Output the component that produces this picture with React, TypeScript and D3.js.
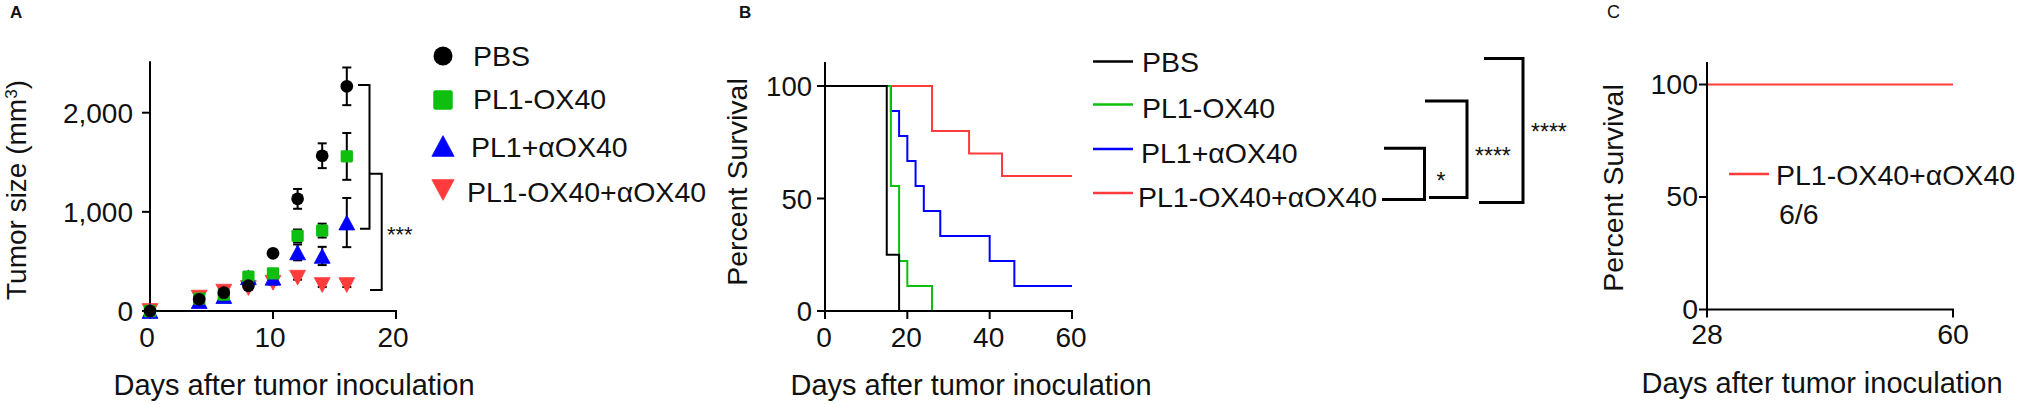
import React from 'react';
import * as d3 from 'd3';

const FONT = '"Liberation Sans", Arial, Helvetica, sans-serif';

// ---------- Panel A: tumor growth ----------
const daysA = [0, 4, 6, 8, 10, 12, 14, 16];
const groupNames = ['PBS', 'PL1-OX40', 'PL1+αOX40', 'PL1-OX40+αOX40'];
const pbsMean = [0, 118, 185, 255, 582, 1131, 1566, 2266];
const pbsSem = [0, 15, 15, 20, 30, 100, 125, 190];
const pl1ox40Mean = [0, 125, 165, 346, 380, 757, 811, 1559];
const pl1ox40Sem = [0, 15, 15, 25, 30, 65, 70, 236];
const pl1aox40Mean = [0, 100, 150, 340, 335, 591, 555, 892];
const pl1aox40Sem = [0, 15, 15, 25, 25, 80, 92, 248];
const comboMean = [0, 135, 195, 232, 285, 336, 262, 262];
const comboSem = [0, 10, 10, 15, 20, 20, 20, 20];
const tumorTicks = [0, 1000, 2000];
const tumorTickLabels = ['0', '1,000', '2,000'];
const dayTicksA = [0, 10, 20];

// ---------- Panel B: survival ----------
const pbsSurvDays = [0, 15, 18];
const pbsSurv = [100, 25, 0];
const pl1ox40SurvDays = [0, 16, 18, 20, 26];
const pl1ox40Surv = [100, 55.6, 22.2, 11.1, 0];
const pl1aox40SurvDays = [0, 16, 18, 20, 22, 24, 28, 40, 46, 60];
const pl1aox40Surv = [100, 88.9, 77.8, 66.7, 55.6, 44.4, 33.3, 22.2, 11.1, 11.1];
const comboSurvDays = [0, 26, 35, 43, 60];
const comboSurv = [100, 80, 70, 60, 60];
const survTicks = [0, 50, 100];
const dayTicksB = [0, 20, 40, 60];

// ---------- Panel C: long-term survival ----------
const comboLongDays = [28, 60];
const comboLongSurv = [100, 100];
const dayTicksC = [28, 60];

const BLACK = '#000000';
const GREEN = '#0FBF0F';
const BLUE = '#0000FF';
const RED = '#FF3B3B';

type Kind = 'circle' | 'square' | 'up' | 'down';

function Marker({ kind, cx, cy, s, color }: { kind: Kind; cx: number; cy: number; s: number; color: string }) {
  if (kind === 'circle') return <circle cx={cx} cy={cy} r={s / 2} fill={color} />;
  if (kind === 'square')
    return <rect x={cx - s / 2} y={cy - s / 2} width={s} height={s} rx={s * 0.12} fill={color} />;
  const w = s * 1.2;
  const h = s * 1.12;
  const p =
    kind === 'up'
      ? `M${cx},${cy - h / 2}L${cx + w / 2},${cy + h / 2}L${cx - w / 2},${cy + h / 2}Z`
      : `M${cx},${cy + h / 2}L${cx + w / 2},${cy - h / 2}L${cx - w / 2},${cy - h / 2}Z`;
  return <path d={p} fill={color} stroke={color} strokeWidth={0.8} strokeLinejoin="round" />;
}

const txt = { fontFamily: FONT, fill: '#111' } as const;

function PanelA() {
  const x = d3.scaleLinear().domain([0, 20]).range([150, 396]);
  const y = d3.scaleLinear().domain([0, 2000]).range([311, 112.7]);
  const yTop = y(2520);
  const series = [
    { name: groupNames[3], mean: comboMean, sem: comboSem, kind: 'down' as Kind, color: RED },
    { name: groupNames[2], mean: pl1aox40Mean, sem: pl1aox40Sem, kind: 'up' as Kind, color: BLUE },
    { name: groupNames[1], mean: pl1ox40Mean, sem: pl1ox40Sem, kind: 'square' as Kind, color: GREEN },
    { name: groupNames[0], mean: pbsMean, sem: pbsSem, kind: 'circle' as Kind, color: BLACK },
  ];
  const legend = [
    { name: groupNames[0], kind: 'circle' as Kind, color: BLACK, cy: 56, by: 65.5, tx: 473 },
    { name: groupNames[1], kind: 'square' as Kind, color: GREEN, cy: 100, by: 108.5, tx: 473 },
    { name: groupNames[2], kind: 'up' as Kind, color: BLUE, cy: 146, by: 157, tx: 471 },
    { name: groupNames[3], kind: 'down' as Kind, color: RED, cy: 190, by: 201.5, tx: 467 },
  ];
  const sizes: Record<Kind, number> = { circle: 12.7, square: 12.3, up: 13.2, down: 13.2 };
  const b1x = 369.5, b2x = 381.7;
  const b1Top = y(2280), b1Bot = y(830);
  const b2Top = y(1385), b2Bot = y(212);
  return (
    <g>
      <text x={10} y={18} style={{ ...txt, fontSize: 17, fontWeight: 700 }}>A</text>
      <line x1={x(0)} x2={x(0)} y1={y(0) + 1} y2={yTop} stroke="#000" strokeWidth={2} />
      <line x1={x(0) - 1} x2={x(20) + 1} y1={y(0)} y2={y(0)} stroke="#000" strokeWidth={2} />
      {tumorTicks.map((t, i) => (
        <g key={t}>
          <line x1={x(0) - 8} x2={x(0)} y1={y(t)} y2={y(t)} stroke="#000" strokeWidth={2} />
          <text x={133} y={y(t) + 10} textAnchor="end" style={{ ...txt, fontSize: 28 }}>{tumorTickLabels[i]}</text>
        </g>
      ))}
      {dayTicksA.map((t) => (
        <g key={t}>
          <line x1={x(t)} x2={x(t)} y1={y(0)} y2={y(0) + 8} stroke="#000" strokeWidth={2} />
          <text x={x(t) - 3} y={347} textAnchor="middle" style={{ ...txt, fontSize: 28 }}>{t}</text>
        </g>
      ))}
      <text x={294} y={395} textAnchor="middle" style={{ ...txt, fontSize: 29 }}>Days after tumor inoculation</text>
      <text transform="translate(25.5,190) rotate(-90)" textAnchor="middle" style={{ ...txt, fontSize: 28 }}>
        Tumor size (mm<tspan fontSize={17} dy={-9}>3</tspan><tspan dy={9}>)</tspan>
      </text>
      {series.map((s) =>
        daysA.map((d, i) =>
          s.sem[i] > 0 ? (
            <g key={s.name + d} stroke="#000" strokeWidth={2}>
              <line x1={x(d)} x2={x(d)} y1={y(s.mean[i] - s.sem[i])} y2={y(s.mean[i] + s.sem[i])} />
              <line x1={x(d) - 4.5} x2={x(d) + 4.5} y1={y(s.mean[i] + s.sem[i])} y2={y(s.mean[i] + s.sem[i])} />
              <line x1={x(d) - 4.5} x2={x(d) + 4.5} y1={y(s.mean[i] - s.sem[i])} y2={y(s.mean[i] - s.sem[i])} />
            </g>
          ) : null
        )
      )}
      {series.map((s) =>
        daysA.map((d, i) => (
          <Marker key={s.name + 'm' + d} kind={s.kind} cx={x(d)} cy={y(s.mean[i])} s={sizes[s.kind]} color={s.color} />
        ))
      )}
      <g stroke="#000" strokeWidth={2} fill="none">
        <path d={`M358,${b1Top}H${b1x}V${b1Bot}H360`} />
        <path d={`M${b1x},${b2Top}H${b2x}V${b2Bot}H370`} />
      </g>
      <text x={387} y={241.5} style={{ ...txt, fontSize: 22 }}>***</text>
      {legend.map((l) => (
        <g key={l.name}>
          <Marker kind={l.kind} cx={443} cy={l.cy} s={l.kind === 'circle' ? 19 : l.kind === 'square' ? 19.5 : 18.5} color={l.color} />
          <text x={l.tx} y={l.by} style={{ ...txt, fontSize: 28.5 }}>{l.name}</text>
        </g>
      ))}
    </g>
  );
}

function PanelB() {
  const x = d3.scaleLinear().domain([0, 60]).range([825, 1072]);
  const y = d3.scaleLinear().domain([0, 100]).range([311, 86]);
  const yTop = 62;
  const line = d3
    .line<[number, number]>()
    .x((d) => x(d[0]))
    .y((d) => y(d[1]))
    .curve(d3.curveStepAfter);
  const curves = [
    { name: groupNames[3], days: comboSurvDays, surv: comboSurv, color: RED },
    { name: groupNames[2], days: pl1aox40SurvDays, surv: pl1aox40Surv, color: BLUE },
    { name: groupNames[1], days: pl1ox40SurvDays, surv: pl1ox40Surv, color: GREEN },
    { name: groupNames[0], days: pbsSurvDays, surv: pbsSurv, color: BLACK },
  ];
  const legend = [
    { name: groupNames[0], color: BLACK, ly: 61.5, by: 71.5, tx: 1142 },
    { name: groupNames[1], color: GREEN, ly: 104.5, by: 118, tx: 1142 },
    { name: groupNames[2], color: BLUE, ly: 149, by: 163, tx: 1141 },
    { name: groupNames[3], color: RED, ly: 193, by: 206.5, tx: 1138 },
  ];
  return (
    <g>
      <text x={739} y={18} style={{ ...txt, fontSize: 17, fontWeight: 700 }}>B</text>
      {curves.map((c) => (
        <path
          key={c.name}
          d={line(c.days.map((d, i) => [d, c.surv[i]] as [number, number])) || ''}
          fill="none"
          stroke={c.color}
          strokeWidth={2}
        />
      ))}
      <line x1={x(0)} x2={x(0)} y1={y(0) + 1} y2={yTop} stroke="#000" strokeWidth={2} />
      <line x1={x(0) - 1} x2={x(60) + 1} y1={y(0)} y2={y(0)} stroke="#000" strokeWidth={2} />
      {survTicks.map((t) => (
        <g key={t}>
          <line x1={x(0) - 8} x2={x(0)} y1={y(t)} y2={y(t)} stroke="#000" strokeWidth={2} />
          <text x={812} y={y(t) + 10} textAnchor="end" style={{ ...txt, fontSize: 27.5 }}>{t}</text>
        </g>
      ))}
      {dayTicksB.map((t) => (
        <g key={t}>
          <line x1={x(t)} x2={x(t)} y1={y(0)} y2={y(0) + 8} stroke="#000" strokeWidth={2} />
          <text x={x(t) - 1} y={347} textAnchor="middle" style={{ ...txt, fontSize: 28 }}>{t}</text>
        </g>
      ))}
      <text x={971} y={395} textAnchor="middle" style={{ ...txt, fontSize: 29 }}>Days after tumor inoculation</text>
      <text transform="translate(747,182) rotate(-90)" textAnchor="middle" style={{ ...txt, fontSize: 28.5 }}>
        Percent Survival
      </text>
      {legend.map((l) => (
        <g key={l.name}>
          <line x1={1093} x2={1133} y1={l.ly} y2={l.ly} stroke={l.color} strokeWidth={2.5} />
          <text x={l.tx} y={l.by} style={{ ...txt, fontSize: 28.5 }}>{l.name}</text>
        </g>
      ))}
      <g stroke="#000" strokeWidth={3} fill="none">
        <path d="M1384,148.3H1424.5V199.5H1382" />
        <path d="M1425,101H1467V197.5H1429" />
        <path d="M1484,58.5H1523V202.5H1479" />
      </g>
      <text x={1441} y={189} textAnchor="middle" style={{ ...txt, fontSize: 23 }}>*</text>
      <text x={1475} y={164} style={{ ...txt, fontSize: 23 }}>****</text>
      <text x={1531} y={140} style={{ ...txt, fontSize: 23 }}>****</text>
    </g>
  );
}

function PanelC() {
  const x = d3.scaleLinear().domain([28, 60]).range([1707, 1953]);
  const y = d3.scaleLinear().domain([0, 100]).range([309.5, 84.5]);
  const yTop = 62;
  const line = d3
    .line<[number, number]>()
    .x((d) => x(d[0]))
    .y((d) => y(d[1]))
    .curve(d3.curveStepAfter);
  return (
    <g>
      <text x={1607} y={18} style={{ ...txt, fontSize: 18 }}>C</text>
      <path
        d={line(comboLongDays.map((d, i) => [d, comboLongSurv[i]] as [number, number])) || ''}
        fill="none"
        stroke={RED}
        strokeWidth={2}
      />
      <line x1={x(28)} x2={x(28)} y1={y(0) + 1} y2={yTop} stroke="#000" strokeWidth={2} />
      <line x1={x(28) - 1} x2={x(60) + 1} y1={y(0)} y2={y(0)} stroke="#000" strokeWidth={2} />
      {survTicks.map((t) => (
        <g key={t}>
          <line x1={x(28) - 8} x2={x(28)} y1={y(t)} y2={y(t)} stroke="#000" strokeWidth={2} />
          <text x={1698} y={y(t) + 9} textAnchor="end" style={{ ...txt, fontSize: 28.5 }}>{t}</text>
        </g>
      ))}
      {dayTicksC.map((t) => (
        <g key={t}>
          <line x1={x(t)} x2={x(t)} y1={y(0)} y2={y(0) + 8} stroke="#000" strokeWidth={2} />
          <text x={x(t)} y={344} textAnchor="middle" style={{ ...txt, fontSize: 28.5 }}>{t}</text>
        </g>
      ))}
      <text x={1822} y={393} textAnchor="middle" style={{ ...txt, fontSize: 29 }}>Days after tumor inoculation</text>
      <text transform="translate(1623,188) rotate(-90)" textAnchor="middle" style={{ ...txt, fontSize: 28.5 }}>
        Percent Survival
      </text>
      <line x1={1729} x2={1769} y1={174} y2={174} stroke={RED} strokeWidth={2.5} />
      <text x={1776} y={185} style={{ ...txt, fontSize: 28.5 }}>{groupNames[3]}</text>
      <text x={1779} y={224} style={{ ...txt, fontSize: 28.5 }}>6/6</text>
    </g>
  );
}

export default function App() {
  return (
    <svg
      width={2022}
      height={404}
      viewBox="0 0 2022 404"
      style={{ position: 'absolute', left: 0, top: 0, background: '#fff' }}
    >
      <rect width={2022} height={404} fill="#fff" />
      <PanelA />
      <PanelB />
      <PanelC />
    </svg>
  );
}
